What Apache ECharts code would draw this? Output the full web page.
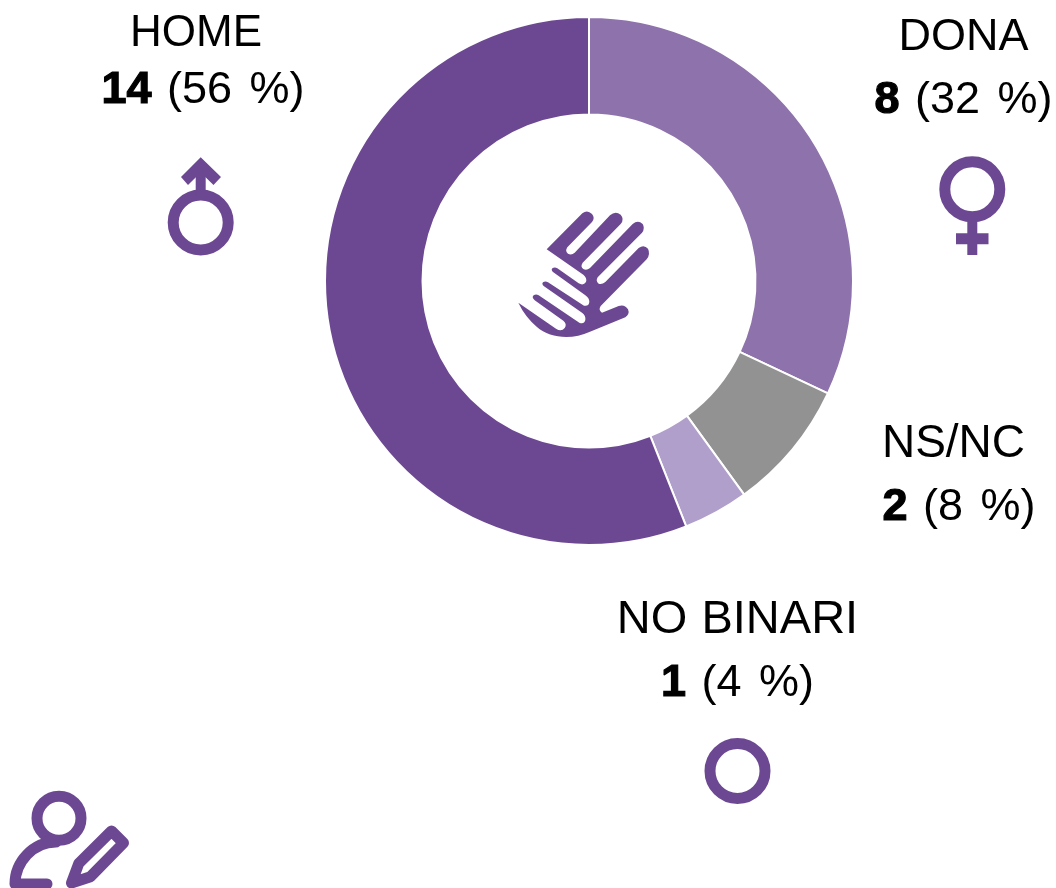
<!DOCTYPE html>
<html>
<head>
<meta charset="utf-8">
<style>html,body{margin:0;padding:0;background:#fff}#c{width:1056px;height:888px}</style>
<script src="https://cdn.jsdelivr.net/npm/echarts@6/dist/echarts.min.js"></script>
</head>
<body>
<div id="c"></div>
<script>
const categories = ['DONA', 'NS/NC', 'NO BINARI', 'HOME'];
const counts = [8, 2, 1, 14];
const percents = [32, 8, 4, 56];
const colors = ['#8e72ab', '#929292', '#b09fca', '#6d4892'];
const labelX = [963.5, 959, 737.5, 203];
const labelY = [69, 476, 652, 62];
const labelLine = [63, 64, 63, 57];
const nameSize = [45, 46, 47, 44];
const nameShift = [0, 11, 0, 14];
const ICON = '#6d4892';

const chart = echarts.init(document.getElementById('c'), null, {renderer: 'canvas'});

const handPath = 'M140 178 L247 70 Q262 58 276 72 Q286 84 276 96 L202 172 Q194 184 204 191 Q214 197 224 188 L330 76 Q346 62 362 74 Q374 88 362 102 L248 218 Q240 230 250 237 Q260 242 270 234 L398 102 Q414 88 428 102 Q436 116 426 128 L293 262 Q286 274 296 281 Q306 284 316 276 L416 174 Q432 162 444 176 Q452 192 440 208 L302 348 Q294 360 306 368 L356 348 Q374 342 384 358 Q390 372 376 382 L270 425 C215 450 150 445 110 410 Q75 380 55 338 L168 416 Q184 426 194 414 Q202 402 190 392 L104 331 Q94 322 101 316 Q108 311 116 316 L238 398 Q252 404 256 390 Q258 376 246 368 L132 289 Q124 282 129 277 Q136 272 144 277 L252 347 Q266 350 268 336 Q268 324 256 316 L160 247 Q152 240 157 235 Q164 230 172 235 L236 280 Q250 288 258 276 Q262 264 250 254 Z';
const bodyPath = 'M56 842 C33 842 15 862 15 884 L47 884';
const penPath = 'M111.5 831 L123.5 843 L90.5 876.7 L71.5 883 L78.8 863.3 Z';

function ring(cx, cy) {
  return {type: 'circle', shape: {cx: cx, cy: cy, r: 27.5}, style: {fill: 'none', stroke: ICON, lineWidth: 11}};
}

function labelFormatter(name, i) {
  const words = name.split(' ');
  const first = words.map(function (w, k) {
    const last = k === words.length - 1;
    return '{' + (last ? 'n' : 'ns') + '|' + w + (last ? '' : ' ') + '}';
  }).join('');
  return first + '\n{bs|' + counts[i] + ' }{ts|(' + percents[i] + ' }{t|%)}';
}

function labelRich(i) {
  const lh = labelLine[i];
  const base = {fontFamily: 'Liberation Sans', fontSize: 45, color: '#000', lineHeight: lh};
  const nm = Object.assign({}, base, {fontSize: nameSize[i]});
  const bold = Object.assign({}, base, {fontWeight: 'bold', textBorderColor: '#000', textBorderWidth: 1.2});
  return {
    t: base,
    ts: Object.assign({}, base, {padding: [0, 5, 0, 0]}),
    bs: Object.assign({}, bold, {padding: [0, 3, 0, 0]}),
    n: Object.assign({}, nm, {padding: [0, nameShift[i], 0, 0]}),
    ns: Object.assign({}, nm, {padding: [0, 1, 0, 0]})
  };
}

const option = {
  backgroundColor: '#ffffff',
  animation: false,
  series: [{
    type: 'pie',
    center: [589, 281],
    radius: [166.5, 264],
    startAngle: 90,
    clockwise: true,
    silent: true,
    itemStyle: {borderColor: '#ffffff', borderWidth: 2},
    labelLine: {show: false},
    labelLayout: function (p) {
      const i = p.dataIndex;
      return {x: labelX[i], y: labelY[i], align: 'center', verticalAlign: 'middle', hideOverlap: false};
    },
    data: categories.map(function (name, i) {
      return {
        name: name,
        value: counts[i],
        itemStyle: {color: colors[i]},
        label: {
          show: true,
          position: 'outside',
          align: 'center',
          formatter: labelFormatter(name, i),
          rich: labelRich(i)
        }
      };
    })
  }, {
    type: 'custom',
    coordinateSystem: 'none',
    silent: true,
    data: [0],
    renderItem: function () {
      return {type: 'group', children: [
        {type: 'path', x: 500, y: 190, scaleX: 1/3, scaleY: 1/3, shape: {pathData: handPath}, style: {fill: ICON}},
        {type: 'path', shape: {pathData: bodyPath}, style: {fill: 'none', stroke: ICON, lineWidth: 11, lineCap: 'round', lineJoin: 'round'}},
        {type: 'path', shape: {pathData: penPath}, style: {fill: 'none', stroke: ICON, lineWidth: 11, lineJoin: 'round'}}
      ]};
    }
  }],
  graphic: {elements: [
    // male
    ring(200.7, 222.5),
    {type: 'rect', shape: {x: 195.7, y: 170, width: 10, height: 26}, style: {fill: ICON}},
    {type: 'polygon', shape: {points: [[200.7,157.3],[221,177],[213.5,185],[200.7,172.5],[188,185],[181,177]]}, style: {fill: ICON}},
    // female
    ring(972.3, 189.3),
    {type: 'rect', shape: {x: 967.3, y: 218, width: 10, height: 37}, style: {fill: ICON}},
    {type: 'rect', shape: {x: 956, y: 233.3, width: 32.5, height: 11}, style: {fill: ICON}},
    // non binary
    ring(737.5, 771),
    // person head
    {type: 'circle', shape: {cx: 59, cy: 818.3, r: 22}, style: {fill: 'none', stroke: ICON, lineWidth: 11}}
  ]}
};
chart.setOption(option);
</script>
</body>
</html>
